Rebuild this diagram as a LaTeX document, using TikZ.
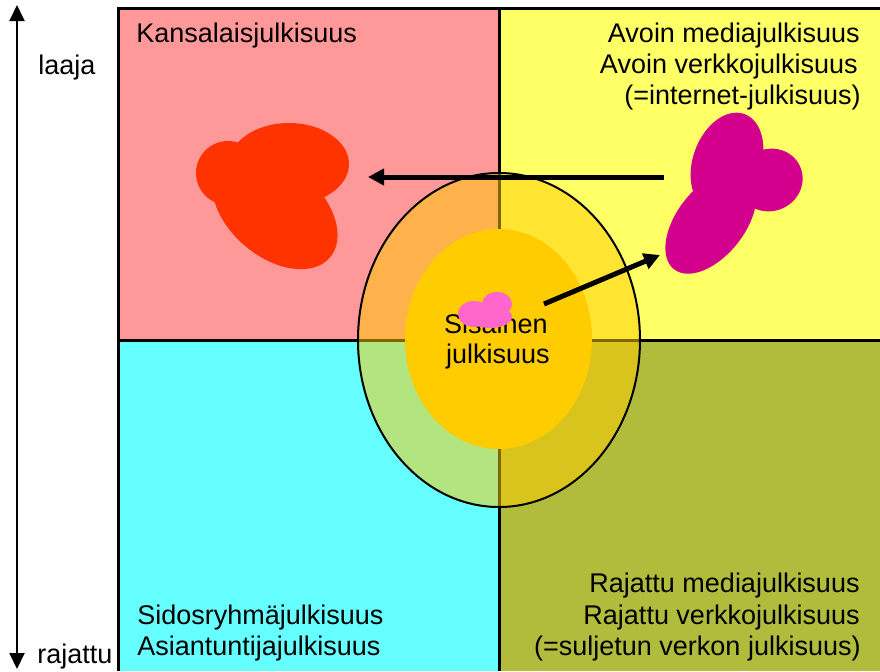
\documentclass[tikz,border=0pt]{standalone}
\usepackage{fontspec}
\setmainfont{Liberation Sans}
\usetikzlibrary{arrows.meta,shapes.geometric}
\definecolor{qpink}{RGB}{255,153,153}
\definecolor{qyellow}{RGB}{255,255,102}
\definecolor{qcyan}{RGB}{102,255,255}
\definecolor{qolive}{RGB}{177,188,60}
\definecolor{gold}{RGB}{255,204,0}
\definecolor{blobred}{RGB}{255,51,0}
\definecolor{blobmag}{RGB}{210,0,140}
\definecolor{blobpink}{RGB}{255,102,204}
\begin{document}
\begin{tikzpicture}[x=0.5pt,y=-0.5pt,
  lbl/.style={font=\fontsize{13.5}{16}\selectfont, inner sep=0pt},
  frameline/.style={line width=1.5pt},
  bigarrow/.style={line width=2.5pt, -{Triangle[length=8pt,width=8pt]}},
  axisarrow/.style={line width=1pt, {Triangle[length=8pt,width=7.5pt]}-{Triangle[length=8pt,width=7.5pt]}},
]
\useasboundingbox (0,0) rectangle (880,671);
% quadrants
\fill[qpink] (118,8) rectangle (499,340);
\fill[qyellow] (499,8) rectangle (880,340);
\fill[qcyan] (118,340) rectangle (499,671);
\fill[qolive] (499,340) rectangle (880,671);
% frame lines
\draw[frameline] (118,671) -- (118,8) -- (880,8);
\draw[frameline] (499,8) -- (499,671);
\draw[frameline] (118,340) -- (880,340);
% axis
\coordinate (atop) at (17,5);
\coordinate (abot) at (17,669);
\draw[axisarrow] (atop) -- (abot);
\node[lbl, anchor=base west] (laaja) at (38,74) {laaja};
\node[lbl, anchor=base west] (rajattu) at (37,663) {rajattu};
% quadrant labels
\node[lbl, anchor=base west] (tl1) at (136,42) {Kansalaisjulkisuus};
\node[lbl, anchor=base east] (tr1) at (860,42) {Avoin mediajulkisuus};
\node[lbl, anchor=base east] (tr2) at (858,73) {Avoin verkkojulkisuus};
\node[lbl, anchor=base east] (tr3) at (861,104) {(=internet-julkisuus)};
\node[lbl, anchor=base west] (bl1) at (137,624) {Sidosryhmäjulkisuus};
\node[lbl, anchor=base west] (bl2) at (137,655) {Asiantuntijajulkisuus};
\node[lbl, anchor=base east] (br1) at (860,592) {Rajattu mediajulkisuus};
\node[lbl, anchor=base east] (br2) at (860,624) {Rajattu verkkojulkisuus};
\node[lbl, anchor=base east] (br3) at (861,655) {(=suljetun verkon julkisuus)};
% ellipses
\node[ellipse, draw, line width=1pt, fill=gold, fill opacity=0.5, draw opacity=1,
      minimum width=141pt, minimum height=167pt, inner sep=0pt] (outer) at (499,340) {};
\node[ellipse, fill=gold, minimum width=93.5pt, minimum height=110pt, inner sep=0pt] (inner) at (498.5,339) {};
\node[lbl, anchor=base] (sis1) at (496,333) {Sisäinen};
\node[lbl, anchor=base] (sis2) at (498,363) {julkisuus};
% small pink blob
\fill[blobpink] (497,304) ellipse [x radius=15, y radius=12];
\fill[blobpink] (490,317) ellipse [x radius=22, y radius=11];
\fill[blobpink] (474,314) ellipse [x radius=16, y radius=13];
% red blob
\fill[blobred] (289,164) ellipse [x radius=60, y radius=41];
\fill[blobred] (228,173) circle [radius=32];
\fill[blobred, rotate around={-40:(275,211)}] (275,211) ellipse [x radius=72, y radius=46];
% magenta blob
\fill[blobmag, rotate around={52:(711,222)}] (711,222) ellipse [x radius=60, y radius=34];
\fill[blobmag, rotate around={70:(727,162)}] (727,162) ellipse [x radius=51, y radius=34];
\fill[blobmag, rotate around={25:(770,180)}] (770,180) ellipse [x radius=33, y radius=31];
% arrows
\coordinate (hstart) at (664,177);
\coordinate (hend) at (368,177);
\draw[bigarrow] (hstart) -- (hend);
\coordinate (dstart) at (544,304);
\coordinate (dend) at (660,255);
\draw[bigarrow] (dstart) -- (dend);
\end{tikzpicture}
\end{document}
